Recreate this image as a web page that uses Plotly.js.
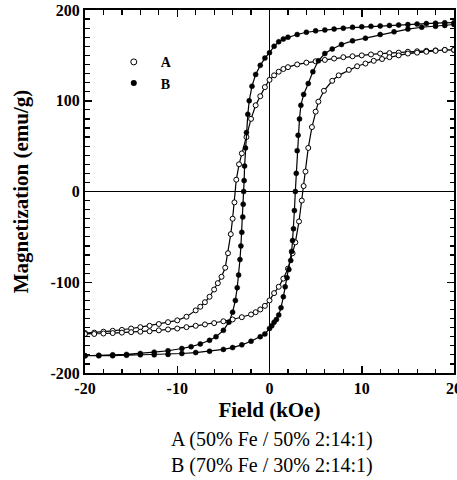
<!DOCTYPE html>
<html>
<head>
<meta charset="utf-8">
<script src="https://cdn.plot.ly/plotly-3.0.1.min.js"></script>
<style>html,body{margin:0;padding:0;background:#fff;}#chart{width:457px;height:480px;}</style>
</head>
<body>
<div id="chart"></div>
<script>
// Sample A (open circles): descending then ascending branch
var A_down_H = [20,19,18,17,16,15,14,13,12,11,10,9,8,7,6,5,4,3,2,1.5,1,0.5,0,-0.5,-1,-1.5,-2,-2.5,-3,-3.3,-3.6,-3.8,-4,-4.2,-4.5,-4.8,-5.2,-5.6,-6,-6.5,-7,-7.5,-8,-9,-10,-11,-12,-13,-14,-15,-16,-17,-18,-19,-20];
var A_down_M = [156,156,155.5,155,154.5,154,153,152.5,152,151,150,149,148,146.5,145,143.5,142,140,137,135,132,128,123,115,105,95,80,60,42,30,13,-12,-30,-47,-68,-84,-94,-101,-108,-116,-122,-127,-131,-138,-142,-144,-146,-148,-149.5,-151,-152.5,-153.5,-154.5,-155.5,-156];
var A_up_H = [-20,-19,-18,-17,-16,-15,-14,-13,-12,-11,-10,-9,-8,-7,-6,-5,-4,-3,-2,-1.5,-1,-0.5,0,0.5,1,1.5,2,2.5,2.8,3.2,3.5,3.7,3.9,4.2,4.6,5,5.3,5.9,6.8,7.5,8.6,9.5,10.4,11.3,12.2,13,14,15,16,17,18,19,20];
var A_up_M = [-157,-157,-156.5,-156,-155.5,-155,-154.5,-154,-153,-152,-151,-149.5,-148,-146.5,-145,-143,-141,-138.5,-135.5,-133,-130,-126,-120,-112,-105,-96,-85,-68,-56,-33,-10,6,22,48,71,88,99,111,122,128,134,138,141,144,146,148,150,152,153,154,155,156,156];

// Sample B (filled circles)
var B_down_H = [20,19,18,17,16,15,14,13,12,11,10,9,8,7,6,5,4,3,2,1.5,1,0.5,0,-0.5,-1,-1.5,-1.9,-2.2,-2.35,-2.5,-2.6,-2.7,-2.75,-2.8,-2.85,-2.9,-3,-3.1,-3.2,-3.35,-3.5,-3.7,-4,-4.4,-5,-5.8,-6.5,-7.5,-8.5,-9.5,-11,-12.5,-14,-15.5,-17,-18.5,-20];
var B_down_M = [186,186,185.5,185,184.5,184,183.5,183,182.5,182,181.5,181,180,179,178,177,175.5,173,170,168,165,160,153,147,139,129,116,100,85,65,48,28,12,0,-14,-28,-45,-60,-75,-92,-106,-120,-133,-144,-153,-160,-164,-168,-171,-173,-175.5,-177,-178.5,-179.5,-180,-180.5,-181];
var B_up_H = [-20,-18.5,-17,-15.5,-14,-12.5,-11,-9.5,-8,-6.5,-5,-4,-3,-2,-1,-0.5,0,0.25,0.5,0.75,1,1.25,1.5,1.7,1.9,2.1,2.3,2.4,2.5,2.6,2.7,2.8,2.9,3,3.1,3.25,3.4,3.7,4.2,4.7,5.3,6,6.8,7.8,9,10.4,12,13.5,15,16.5,18,19,20];
var B_up_M = [-181,-181,-181,-180.5,-180,-180,-179.5,-178.5,-177.5,-176,-174,-172,-169,-165,-160,-157,-151,-148,-144,-141,-136,-128,-116,-105,-95,-86,-76,-66,-54,-41,-21,0,20,45,62,80,95,107,119,132,144,152,157,162,166,169,173,176,179,181,182,183,184];

var seriesNames = ['A', 'B'];
var xTickVals = [-20, -10, 0, 10, 20];
var xTickText = ['-20', '-10', '0', '10', '20'];
var xMinorVals = [-18,-16,-14,-12,-8,-6,-4,-2,2,4,6,8,12,14,16,18];
var yTickVals = [-200, -100, 0, 100, 200];
var yTickText = ['-200', '-100', '0', '100', '200'];
var yMinorVals = [-190,-180,-170,-160,-150,-140,-130,-120,-110,-90,-80,-70,-60,-50,-40,-30,-20,-10,
                  10,20,30,40,50,60,70,80,90,110,120,130,140,150,160,170,180,190];
var xTitle = 'Field (kOe)';
var yTitle = 'Magnetization (emu/g)';
var captionLines = ['A (50% Fe / 50% 2:14:1)', 'B (70% Fe / 30% 2:14:1)'];

var serif = 'Liberation Serif, Times New Roman, serif';

var traceA = {
  x: A_down_H.concat(A_up_H), y: A_down_M.concat(A_up_M),
  mode: 'lines+markers', showlegend: false,
  line: {color: '#000', width: 1.2},
  marker: {symbol: 'circle', size: 5, color: '#fff', line: {color: '#000', width: 1}}
};
var traceB = {
  x: B_down_H.concat(B_up_H), y: B_down_M.concat(B_up_M),
  mode: 'lines+markers', showlegend: false,
  line: {color: '#000', width: 1.2},
  marker: {symbol: 'circle', size: 5, color: '#000', line: {color: '#000', width: 0.5}}
};
var legA = {x: [null], y: [null], mode: 'markers', name: '\u00a0\u00a0' + seriesNames[0],
  marker: {symbol: 'circle', size: 6, color: '#fff', line: {color: '#000', width: 1}}};
var legB = {x: [null], y: [null], mode: 'markers', name: '\u00a0\u00a0' + seriesNames[1],
  marker: {symbol: 'circle', size: 6, color: '#000'}};

var axisCommon = {
  ticks: 'inside', ticklen: 7, tickwidth: 1.5, tickcolor: '#000',
  showline: true, linecolor: '#000', linewidth: 2, mirror: 'ticks',
  showgrid: false, zeroline: true, zerolinecolor: '#000', zerolinewidth: 1.5,
  tickmode: 'array', ticklabeloverflow: 'allow',
  tickfont: {family: serif, size: 16, color: '#000', weight: 'bold'}
};

var layout = {
  width: 457, height: 480,
  margin: {l: 85, r: 3, t: 10, b: 107},
  paper_bgcolor: '#fff', plot_bgcolor: '#fff',
  font: {family: serif, color: '#000'},
  xaxis: Object.assign({}, axisCommon, {
    range: [-20, 20], tickvals: xTickVals, ticktext: xTickText,
    minor: {tickmode: 'array', tickvals: xMinorVals, ticks: 'inside', ticklen: 4.5, tickcolor: '#000', tickwidth: 1.2, showgrid: false},
    title: {text: xTitle, font: {family: serif, size: 21, color: '#000', weight: 'bold'}, standoff: 6}
  }),
  yaxis: Object.assign({}, axisCommon, {
    range: [-200, 200], tickvals: yTickVals, ticktext: yTickText,
    minor: {tickmode: 'array', tickvals: yMinorVals, ticks: 'inside', ticklen: 4.5, tickcolor: '#000', tickwidth: 1.2, showgrid: false},
    title: {text: yTitle, font: {family: serif, size: 21, color: '#000', weight: 'bold'}, standoff: 16}
  }),
  legend: {x: 0.078, y: 0.9, xanchor: 'left', yanchor: 'top', bgcolor: 'rgba(0,0,0,0)',
    font: {family: serif, size: 14, color: '#000', weight: 'bold'}, tracegroupgap: 0},
  annotations: [
    {xref: 'paper', yref: 'paper', x: 0.507, y: -0.182, xanchor: 'center', yanchor: 'middle', showarrow: false,
     text: captionLines[0], font: {family: serif, size: 20, color: '#000'}},
    {xref: 'paper', yref: 'paper', x: 0.507, y: -0.256, xanchor: 'center', yanchor: 'middle', showarrow: false,
     text: captionLines[1], font: {family: serif, size: 20, color: '#000'}}
  ]
};

Plotly.newPlot('chart', [traceA, traceB, legA, legB], layout, {displayModeBar: false, staticPlot: true});
</script>
</body>
</html>
